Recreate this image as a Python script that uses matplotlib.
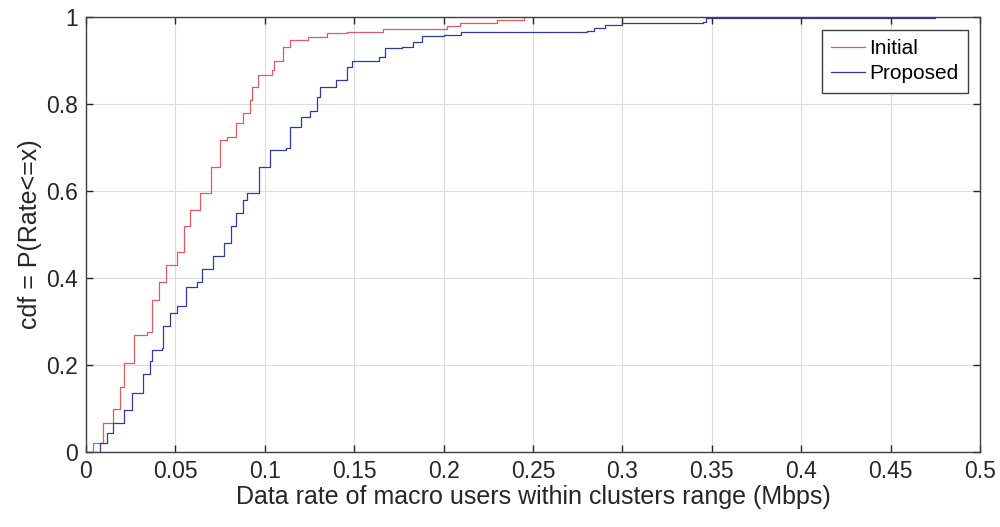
import numpy as np
import matplotlib
matplotlib.use("Agg")
import matplotlib.pyplot as plt

initial_x = [0.002, 0.004, 0.0095, 0.015, 0.019, 0.021, 0.027, 0.034, 0.037, 0.041,
             0.045, 0.051, 0.055, 0.058, 0.064, 0.070, 0.075, 0.079, 0.084, 0.088,
             0.092, 0.093, 0.096, 0.104, 0.105, 0.110, 0.114, 0.124, 0.135, 0.146,
             0.166, 0.202, 0.209, 0.230, 0.245]
initial_y = [0.0, 0.02, 0.067, 0.10, 0.15, 0.205, 0.27, 0.275, 0.35, 0.39,
             0.43, 0.46, 0.52, 0.556, 0.595, 0.655, 0.717, 0.724, 0.756, 0.78,
             0.81, 0.84, 0.867, 0.878, 0.90, 0.93, 0.947, 0.954, 0.963, 0.966,
             0.972, 0.98, 0.986, 0.993, 1.0]

proposed_x = [0.005, 0.008, 0.012, 0.015, 0.021, 0.026, 0.032, 0.036, 0.037, 0.0425,
              0.043, 0.047, 0.051, 0.056, 0.062, 0.065, 0.071, 0.077, 0.081, 0.084,
              0.088, 0.090, 0.097, 0.103, 0.112, 0.114, 0.120, 0.125, 0.129, 0.131,
              0.140, 0.146, 0.149, 0.164, 0.167, 0.177, 0.183, 0.188, 0.200, 0.210,
              0.280, 0.284, 0.290, 0.300, 0.345, 0.347, 0.475]
proposed_y = [0.0, 0.02, 0.044, 0.067, 0.097, 0.135, 0.18, 0.21, 0.235, 0.24,
              0.29, 0.32, 0.335, 0.38, 0.39, 0.42, 0.45, 0.48, 0.52, 0.55,
              0.58, 0.595, 0.655, 0.694, 0.70, 0.747, 0.77, 0.784, 0.816, 0.84,
              0.855, 0.885, 0.90, 0.908, 0.929, 0.931, 0.942, 0.956, 0.959, 0.966,
              0.968, 0.975, 0.982, 0.986, 0.989, 0.997, 1.0]

x_ticks = [0, 0.05, 0.1, 0.15, 0.2, 0.25, 0.3, 0.35, 0.4, 0.45, 0.5]
x_labels = ["0", "0.05", "0.1", "0.15", "0.2", "0.25", "0.3", "0.35", "0.4", "0.45", "0.5"]
y_ticks = [0, 0.2, 0.4, 0.6, 0.8, 1]
y_labels = ["0", "0.2", "0.4", "0.6", "0.8", "1"]

plt.rcParams['font.family'] = ['Liberation Sans', 'DejaVu Sans']

fig = plt.figure(figsize=(10, 5.27), dpi=100)
ax = fig.add_axes([0.086, 0.1423, 0.894, 0.8254])

ax.plot(initial_x, initial_y, drawstyle='steps-post', color='#e05a64', lw=0.9, label='Initial')
ax.plot(proposed_x, proposed_y, drawstyle='steps-post', color='#2e3c9e', lw=0.9, label='Proposed')

ax.set_xlim(0, 0.5)
ax.set_ylim(0, 1)
ax.set_xticks(x_ticks)
ax.set_xticklabels(x_labels)
ax.set_yticks(y_ticks)
ax.set_yticklabels(y_labels)
ax.grid(True, color='#dcdcdc', lw=0.8)
ax.set_axisbelow(True)

ax.tick_params(direction='in', length=5, width=1, top=True, right=True,
               labelsize=16.5, colors='#262626', pad=6)
for s in ax.spines.values():
    s.set_color('#404040')
    s.set_linewidth(1.0)

ax.set_xlabel('Data rate of macro users within clusters range (Mbps)', fontsize=18, color='#262626', labelpad=1)
ax.set_ylabel('cdf = P(Rate<=x)', fontsize=18, color='#262626', labelpad=3)

leg = ax.legend(loc='upper right', fontsize=15, fancybox=False, framealpha=1,
                edgecolor='#404040', handlelength=1.6, handletextpad=0.2,
                borderpad=0.45, labelspacing=0.3, borderaxespad=0.6)
leg.get_frame().set_linewidth(1.0)

fig.savefig('out.png', dpi=100)
